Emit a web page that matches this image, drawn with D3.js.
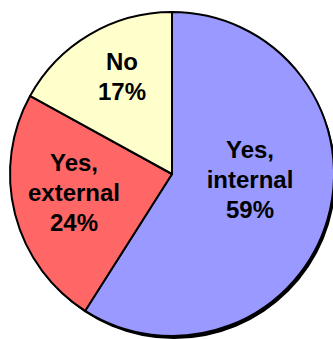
<!DOCTYPE html>
<html>
<head>
<meta charset="utf-8">
<script src="https://cdn.jsdelivr.net/npm/d3@7/dist/d3.min.js"></script>
<style>
  html, body { margin: 0; padding: 0; background: #ffffff; }
  svg { display: block; }
</style>
</head>
<body>
<svg id="chart" width="333" height="339"></svg>
<script>
// Survey answers, clockwise from 12 o'clock
const categories = ["Yes, internal", "Yes, external", "No"];
const values = [59, 24, 17];
const labelLines = [["Yes,", "internal", "59%"], ["Yes,", "external", "24%"], ["No", "17%"]];
const colors = ["#9999ff", "#ff6666", "#ffffcc"];

const svg = d3.select("#chart");
const cx = 172, cy = 174, r = 162;

const pie = d3.pie().sort(null).value(d => d)(values);
const arc = d3.arc().innerRadius(0).outerRadius(r);

// drop shadow behind the disc
svg.append("circle")
  .attr("cx", cx + 2).attr("cy", cy + 3).attr("r", r)
  .attr("fill", "#000");

const g = svg.append("g").attr("transform", `translate(${cx},${cy})`);

g.selectAll("path.slice")
  .data(pie)
  .join("path")
  .attr("class", "slice")
  .attr("d", arc)
  .attr("fill", (d, i) => colors[i])
  .attr("stroke", "#000")
  .attr("stroke-width", 2)
  .attr("stroke-linejoin", "round");

// label anchor positions inside each slice (relative to centre)
const labelPos = [[78, -16], [-98, -3], [-50, -104]];
const lineGap = 30;

const labels = g.selectAll("text.lbl")
  .data(pie)
  .join("text")
  .attr("class", "lbl")
  .attr("text-anchor", "middle")
  .attr("font-family", "Liberation Sans, Arial, sans-serif")
  .attr("font-weight", "bold")
  .attr("font-size", 24)
  .attr("fill", "#000");

labels.each(function(d, i) {
  const lines = labelLines[i];
  const [lx, ly] = labelPos[i];
  const t = d3.select(this);
  lines.forEach((s, k) => {
    t.append("tspan")
      .attr("x", lx)
      .attr("y", ly + k * lineGap)
      .text(s);
  });
});
</script>
</body>
</html>
